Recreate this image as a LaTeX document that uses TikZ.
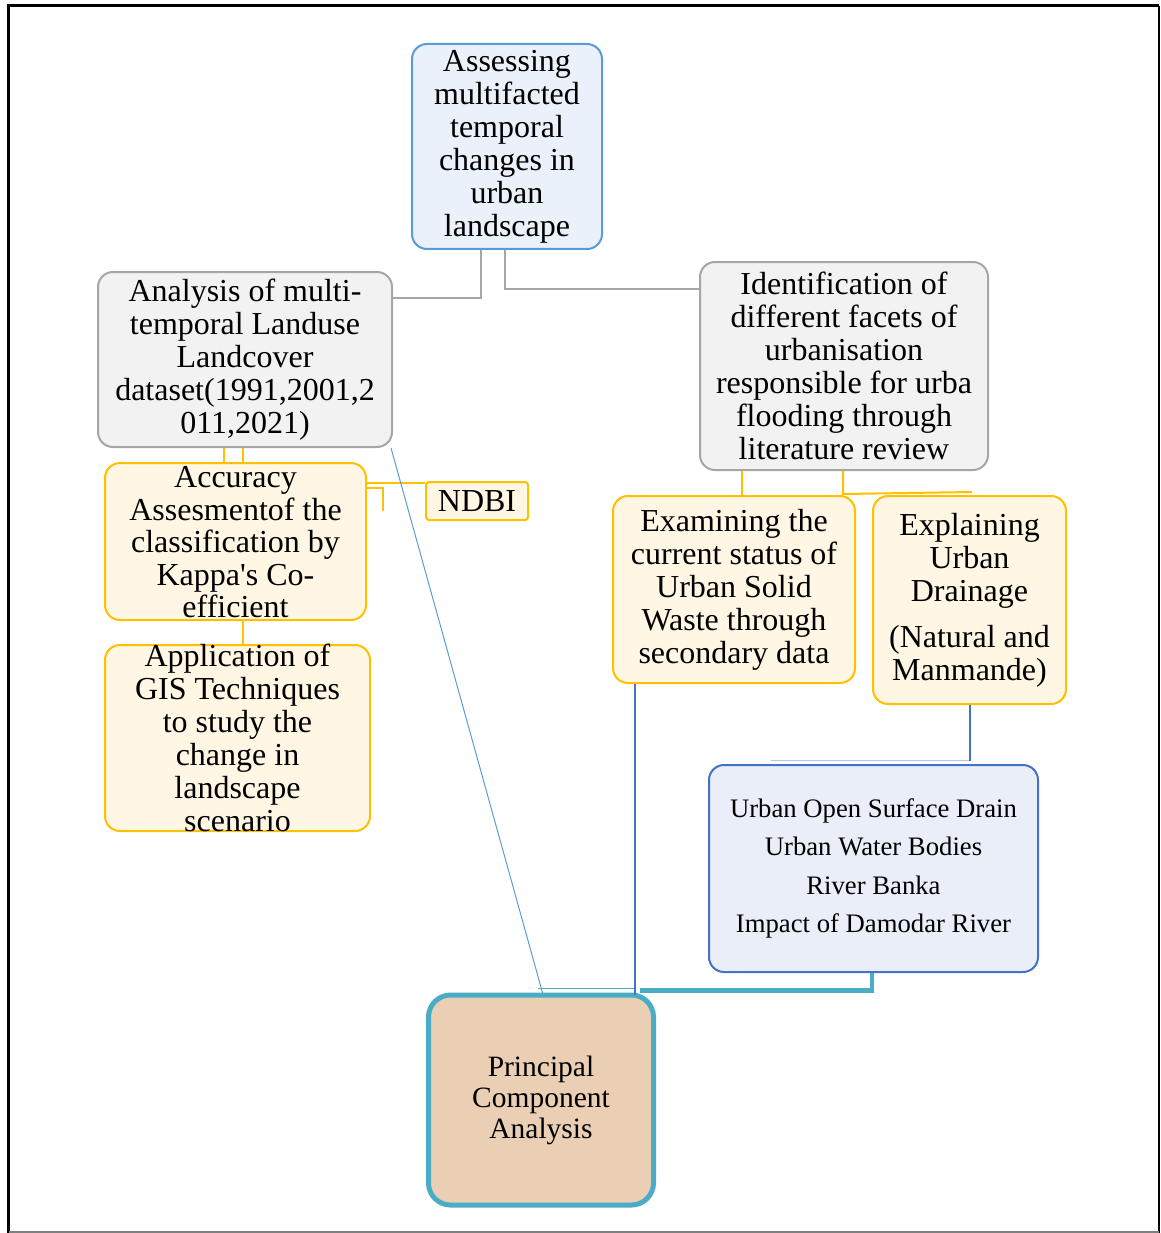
\documentclass[tikz,border=0pt]{standalone}
\usepackage{fontspec}
\setmainfont{Liberation Serif}
\definecolor{grline}{HTML}{A6A6A6}
\definecolor{grfill}{HTML}{F2F2F2}
\definecolor{yel}{HTML}{FFC000}
\definecolor{cream}{HTML}{FFF6E4}
\definecolor{lblue}{HTML}{5B9BD5}
\definecolor{lbfill}{HTML}{EAF1FA}
\definecolor{dblue}{HTML}{4472C4}
\definecolor{dbfill}{HTML}{E9EEF8}
\definecolor{tealc}{HTML}{4BACC6}
\definecolor{tan}{HTML}{EACFB4}
\begin{document}
\begin{tikzpicture}[x=1pt,y=-1pt,
  box/.style={rectangle, rounded corners=15pt, line width=2pt, align=center, inner sep=0pt,
    font=\fontsize{32}{33}\selectfont},
  graybox/.style={box, draw=grline, fill=grfill},
  yelbox/.style={box, draw=yel, fill=cream},
  topbox/.style={box, draw=lblue, fill=lbfill},
  txt/.style={align=center, inner sep=0pt, font=\fontsize{32}{33}\selectfont},
  gline/.style={draw=grline, line width=2pt},
  yline/.style={draw=yel, line width=2pt},
]
\useasboundingbox (0,0) rectangle (1160,1233);
% frame
\draw[line width=3pt] (8.5,1233) -- (8.5,6) -- (1159,6);
\draw[line width=2pt] (1159,6) -- (1159,1233);
\draw[gray, line width=2pt] (8.5,1232) -- (1159,1232);

\node[topbox, minimum width=190pt, minimum height=205pt] (top) at (507,146.5)
  {Assessing\\multifacted\\temporal\\changes in\\urban\\landscape};
\node[graybox, minimum width=294pt, minimum height=175pt] (analysis) at (245,359.5)
  {Analysis of multi-\\temporal Landuse\\Landcover\\dataset(1991,2001,2\\011,2021)};
\node[graybox, minimum width=288pt, minimum height=208pt] (ident) at (844,366)
  {Identification of\\different facets of\\urbanisation\\responsible for urba\\flooding through\\literature review};
\node[yelbox, minimum width=261pt, minimum height=157pt] (acc) at (235.5,541.5) {};
\node[txt, font=\fontsize{32}{32.5}\selectfont] (acctext) at ([yshift=-1pt]acc.center)
  {Accuracy\\Assesmentof the\\classification by\\Kappa\textquotesingle s Co-\\efficient};
\node[yelbox, rounded corners=3pt, minimum width=102pt, minimum height=38pt] (ndbi) at (477,501) {NDBI};
\node[yelbox, minimum width=265pt, minimum height=186pt] (app) at (237.5,738) {};
\node[txt] (apptext) at (app.center)
  {Application of\\GIS Techniques\\to study the\\change in\\landscape\\scenario};
\node[yelbox, minimum width=242pt, minimum height=187pt] (exam) at (734,589.5)
  {Examining the\\current status of\\Urban Solid\\Waste through\\secondary data};
\node[yelbox, minimum width=193pt, minimum height=208pt] (expl) at (969.5,600)
  {Explaining\\Urban\\Drainage\\[13pt](Natural and\\Manmande)};
\node[box, draw=dblue, fill=dbfill, minimum width=329pt, minimum height=207pt,
  font=\fontsize{26.7}{38.5}\selectfont] (blue) at (873.5,868.5)
  {Urban Open Surface Drain\\Urban Water Bodies\\River Banka\\Impact of Damodar River};
\node[box, draw=tealc, fill=tan, line width=5pt, rounded corners=22pt, minimum width=225pt,
  minimum height=210pt, font=\fontsize{29.5}{31}\selectfont] (pca) at (541,1100)
  {Principal\\Component\\Analysis};

% connectors
\draw[gline] ([xshift=-26pt]top.south) |- ([yshift=61.5pt]analysis.east);
\draw[gline] ([xshift=-2pt]top.south) |- ([yshift=77pt]ident.west);
\draw[yline] ([xshift=-21pt]analysis.south) -- ([xshift=-11.5pt]acc.north);
\draw[yline] ([xshift=-2pt]analysis.south) -- ([xshift=7.5pt]acc.north);
\draw[yline] ([yshift=58.5pt]acc.east) -- ([yshift=18pt]ndbi.west);
\draw[yline] ([yshift=53.5pt]acc.east) -- ++(16,0) -- ++(0,23);
\draw[yline] ([xshift=7.5pt]acc.south) -- ([xshift=5.5pt]app.north);
\draw[yline] ([xshift=-102pt]ident.south) -- ([xshift=8pt]exam.north);
\draw[yline] ([xshift=-1pt]ident.south) -- ++(0,23) -- ([xshift=2.5pt,yshift=3pt]expl.north);
\draw[lblue, line width=1pt] ([xshift=-2pt]analysis.south east) -- ([xshift=2pt,yshift=-2pt]pca.north);
\draw[tealc, line width=0.8pt] ([xshift=-3pt,yshift=4pt]pca.north) -- ([xshift=94pt,yshift=4pt]pca.north);
\draw[dblue, line width=1.5pt] ([xshift=-99pt]exam.south) -- ([xshift=94pt,yshift=-2pt]pca.north);
\draw[dblue!40, line width=1pt] ([xshift=-103pt,yshift=4pt]blue.north) -- ([xshift=96.5pt,yshift=4pt]blue.north);
\draw[dblue, line width=2pt] (expl.south) -- ([yshift=3pt]expl.south |- blue.north);
\draw[tealc, line width=4.5pt] ([xshift=-1.5pt]blue.south) |- ([xshift=99pt,yshift=2pt]pca.north);
\end{tikzpicture}
\end{document}
